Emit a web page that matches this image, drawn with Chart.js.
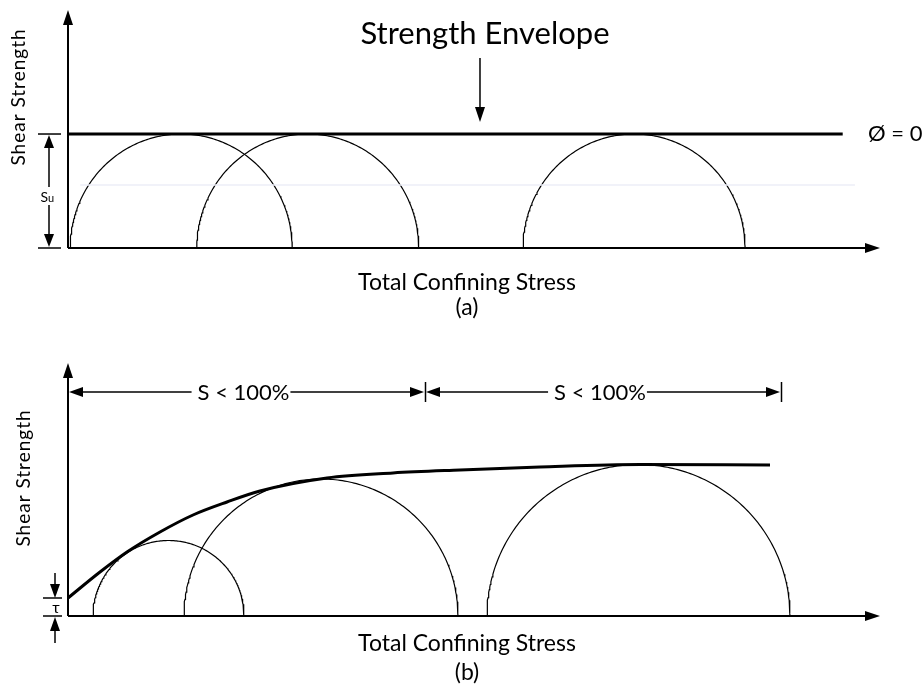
<!DOCTYPE html>
<html>
<head>
<meta charset="utf-8">
<script src="https://cdn.jsdelivr.net/npm/chart.js@4"></script>
<style>
  body { margin: 0; background: #fff; }
  .panel { position: relative; width: 922px; }
  #wrapA { height: 340px; }
  #wrapB { height: 348px; }
</style>
</head>
<body>
<div class="panel" id="wrapA"><canvas id="chartA"></canvas></div>
<div class="panel" id="wrapB"><canvas id="chartB"></canvas></div>
<script>
// (a) phi = 0 : all circles share the same radius Su
var suA = 50;
var sigma3A = [1, 58, 205];
var sigma1A = [101, 158, 305];
var envXA = [0, 349];
var faintXA = [5.5, 354.5];
var faintYA = 27.6;

// (b) S < 100% : curved envelope
var sigma3B = [12.5, 58, 209.5];
var sigma1B = [88, 195, 361];
var envXB = [0, 16, 29.5, 46, 62.5, 79.5, 96, 129.5, 162.5, 196, 236, 286, 351];
var envYB = [9, 22, 32, 42, 50.5, 57, 62.5, 69, 71.5, 73, 74.5, 75.75, 75.5];
var tauB = 9;
var spanLevelB = 112;
var spansB = [[0, 178.5], [178.5, 356.5]];
var spanLabels = ['S < 100%', 'S < 100%'];

var FONT = 'Lato, "Open Sans", sans-serif';
var INK = '#000';

// points of the upper half of a Mohr circle
function mohr(s3, s1) {
  var c = (s3 + s1) / 2, r = (s1 - s3) / 2, pts = [];
  for (var i = 0; i <= 180; i++) {
    var t = Math.PI * i / 180;
    pts.push({x: c - r * Math.cos(t), y: r * Math.sin(t)});
  }
  return pts;
}

function seg(ctx, x1, y1, x2, y2) {
  ctx.beginPath(); ctx.moveTo(x1, y1); ctx.lineTo(x2, y2); ctx.stroke();
}

// filled arrow head, tip at (x, y), ang = direction it points to
function head(ctx, x, y, ang, len, w) {
  ctx.save();
  ctx.translate(x, y); ctx.rotate(ang);
  ctx.beginPath();
  ctx.moveTo(0, 0); ctx.lineTo(-len, -w / 2); ctx.lineTo(-len, w / 2);
  ctx.closePath(); ctx.fill();
  ctx.restore();
}

function text(ctx, str, x, y, size, align) {
  ctx.font = size + 'px ' + FONT;
  ctx.textAlign = align || 'center';
  ctx.textBaseline = 'alphabetic';
  ctx.fillText(str, x, y);
}

function vtext(ctx, str, x, y, size) {
  ctx.save();
  ctx.translate(x, y); ctx.rotate(-Math.PI / 2);
  ctx.letterSpacing = '1px';
  text(ctx, str, 0, 0, size);
  ctx.restore();
}

var arrowAxes = {
  id: 'arrowAxes',
  afterDatasetsDraw: function (chart) {
    var ctx = chart.ctx, a = chart.chartArea;
    var x0 = chart.scales.x.getPixelForValue(0), y0 = chart.scales.y.getPixelForValue(0);
    ctx.save();
    ctx.strokeStyle = ctx.fillStyle = INK;
    ctx.lineWidth = 2;
    seg(ctx, x0, y0, x0, a.top + 12);
    head(ctx, x0, a.top, -Math.PI / 2, 15, 10);
    seg(ctx, x0, y0, a.right - 12, y0);
    head(ctx, a.right, y0, 0, 15, 10);
    ctx.restore();
  }
};

var notesA = {
  id: 'notesA',
  afterDraw: function (chart) {
    var ctx = chart.ctx, xs = chart.scales.x, ys = chart.scales.y;
    var ySu = ys.getPixelForValue(suA), y0 = ys.getPixelForValue(0);
    ctx.save();
    ctx.strokeStyle = ctx.fillStyle = INK;
    ctx.lineWidth = 1.5;
    // Su dimension
    seg(ctx, 38, ySu, 61, ySu);
    seg(ctx, 38, y0, 61, y0);
    var mid = y0 - 52;
    seg(ctx, 49, ySu + 12, 49, mid - 9);
    seg(ctx, 49, mid + 9, 49, y0 - 12);
    head(ctx, 49, ySu + 1, -Math.PI / 2, 13, 10);
    head(ctx, 49, y0 - 1, Math.PI / 2, 13, 10);
    text(ctx, 'S', 48, mid + 6, 14, 'right');
    text(ctx, 'u', 48, mid + 6, 11, 'left');
    // title + pointer
    var px = xs.getPixelForValue(185.6);
    text(ctx, 'Strength Envelope', 485, 44, 31);
    seg(ctx, px, 58, px, ySu - 20);
    head(ctx, px, ySu - 12, Math.PI / 2, 15, 10);
    text(ctx, '\u00d8 = 0', 868, ySu + 7, 22, 'left');
    vtext(ctx, 'Shear Strength', 25, 97, 19);
    text(ctx, 'Total Confining Stress', 467, y0 + 42, 23);
    text(ctx, '(a)', 467, y0 + 67, 23);
    ctx.restore();
  }
};

var notesB = {
  id: 'notesB',
  afterDraw: function (chart) {
    var ctx = chart.ctx, xs = chart.scales.x, ys = chart.scales.y;
    var yT = ys.getPixelForValue(tauB), y0 = ys.getPixelForValue(0);
    var yS = ys.getPixelForValue(spanLevelB);
    ctx.save();
    ctx.strokeStyle = ctx.fillStyle = INK;
    ctx.lineWidth = 1.5;
    // saturation spans
    spansB.forEach(function (s, i) {
      var xa = xs.getPixelForValue(s[0]), xb = xs.getPixelForValue(s[1]);
      ctx.font = '22px ' + FONT;
      var w = ctx.measureText(spanLabels[i]).width;
      var left = (xa + xb) / 2 - w / 2 - 3;
      seg(ctx, xa + 12, yS, left - 6, yS);
      seg(ctx, left + w + 1, yS, xb - 12, yS);
      head(ctx, xa + 1, yS, Math.PI, 14, 10);
      head(ctx, xb - 1, yS, 0, 14, 10);
      seg(ctx, xb + 0.5, yS - 10, xb + 0.5, yS + 10);
      text(ctx, spanLabels[i], left, yS + 8, 22, 'left');
    });
    // tau intercept
    seg(ctx, 43, yT, 62, yT);
    seg(ctx, 43, y0, 62, y0);
    seg(ctx, 55, yT - 25, 55, yT - 12);
    head(ctx, 55, yT, Math.PI / 2, 14, 10);
    seg(ctx, 55, y0 + 12, 55, y0 + 27);
    head(ctx, 55, y0 + 1, -Math.PI / 2, 14, 10);
    text(ctx, '\u03c4', 56, y0 - 3, 16);
    vtext(ctx, 'Shear Strength', 30, 138, 19);
    text(ctx, 'Total Confining Stress', 467, y0 + 35, 23);
    text(ctx, '(b)', 467, y0 + 64, 23);
    ctx.restore();
  }
};

function baseOptions(pad, xmax, ymax) {
  return {
    animation: false,
    responsive: true,
    maintainAspectRatio: false,
    layout: {padding: pad},
    scales: {
      x: {type: 'linear', min: 0, max: xmax, display: false},
      y: {type: 'linear', min: 0, max: ymax, display: false}
    },
    plugins: {legend: {display: false}, tooltip: {enabled: false}},
    elements: {point: {radius: 0}}
  };
}

function circleSets(s3, s1) {
  return s3.map(function (s, i) {
    return {data: mohr(s, s1[i]), showLine: true, borderColor: INK, borderWidth: 1.2, clip: false};
  });
}

new Chart('chartA', {
  type: 'scatter',
  data: {
    datasets: [
      {data: faintXA.map(function (x) { return {x: x, y: faintYA}; }), showLine: true, borderColor: '#eceef7', borderWidth: 1.5},
      {data: envXA.map(function (x) { return {x: x, y: suA}; }), showLine: true, borderColor: INK, borderWidth: 3, clip: false}
    ].concat(circleSets(sigma3A, sigma1A))
  },
  options: baseOptions({left: 68, right: 42, top: 10, bottom: 92}, 365.8, 104.4),
  plugins: [arrowAxes, notesA]
});

new Chart('chartB', {
  type: 'scatter',
  data: {
    datasets: [
      {data: envXB.map(function (x, i) { return {x: x, y: envYB[i]}; }), showLine: true,
       cubicInterpolationMode: 'monotone', borderColor: INK, borderWidth: 3, clip: false}
    ].concat(circleSets(sigma3B, sigma1B))
  },
  options: baseOptions({left: 68, right: 42, top: 23, bottom: 72}, 406, 126.5),
  plugins: [arrowAxes, notesB]
});
</script>
</body>
</html>
